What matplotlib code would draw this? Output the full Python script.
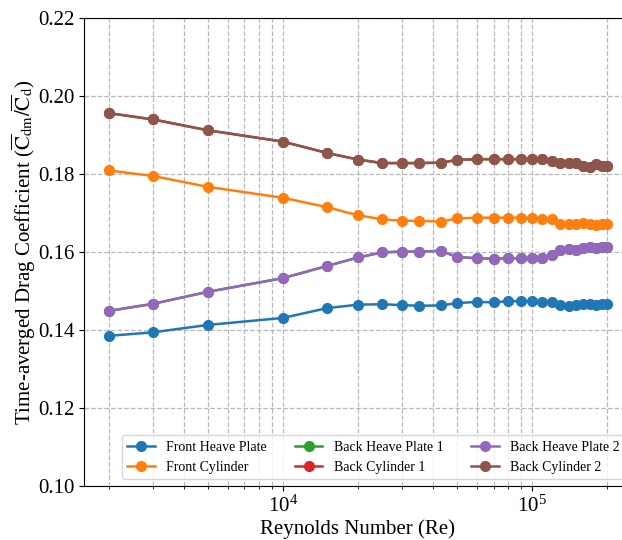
import numpy as np
import matplotlib
matplotlib.use('Agg')
import matplotlib.pyplot as plt
from matplotlib.ticker import FormatStrFormatter

plt.rcParams['font.family'] = ['Liberation Serif', 'DejaVu Serif']
plt.rcParams['mathtext.fontset'] = 'stix'

# Reynolds numbers
re = [2000, 3000, 5000, 10000, 15000, 20000, 25000, 30000, 35000, 43000,
      50000, 60000, 70000, 80000, 90000, 100000, 110000, 120000, 130000,
      140000, 150000, 160000, 170000, 180000, 190000, 200000]

# time-averaged drag coefficient ratio per body
front_heave = [0.1385, 0.1394, 0.1413, 0.1431, 0.1456, 0.1465, 0.1466, 0.1464, 0.1462, 0.1463,
               0.1469, 0.1472, 0.1471, 0.1474, 0.1474, 0.1474, 0.1473, 0.1472, 0.1463,
               0.1462, 0.1463, 0.1467, 0.1467, 0.1463, 0.1466, 0.1466]
front_cyl = [0.1809, 0.1795, 0.1767, 0.1739, 0.1715, 0.1694, 0.1684, 0.1680, 0.1680, 0.1678,
             0.1686, 0.1688, 0.1688, 0.1688, 0.1688, 0.1687, 0.1685, 0.1684, 0.1673,
             0.1671, 0.1672, 0.1674, 0.1673, 0.1669, 0.1673, 0.1672]
back_heave = [0.1449, 0.1467, 0.1498, 0.1533, 0.1564, 0.1586, 0.1599, 0.1601, 0.1601, 0.1603,
              0.1587, 0.1584, 0.1583, 0.1584, 0.1584, 0.1584, 0.1584, 0.1592, 0.1606,
              0.1607, 0.1606, 0.1609, 0.1612, 0.1611, 0.1614, 0.1614]
back_cyl = [0.1956, 0.1940, 0.1912, 0.1883, 0.1854, 0.1837, 0.1828, 0.1828, 0.1828, 0.1829,
            0.1836, 0.1838, 0.1838, 0.1838, 0.1838, 0.1838, 0.1838, 0.1833, 0.1827,
            0.1827, 0.1827, 0.1821, 0.1819, 0.1826, 0.1821, 0.1821]

series = [("Front Heave Plate", front_heave),
          ("Front Cylinder", front_cyl),
          ("Back Heave Plate 1", back_heave),
          ("Back Cylinder 1", back_cyl),
          ("Back Heave Plate 2", back_heave),
          ("Back Cylinder 2", back_cyl)]

fig = plt.figure(figsize=(6.22, 5.4), dpi=100)
ax = fig.add_axes([84 / 622, 54 / 540, 548 / 622, 468 / 540])

for name, vals in series:
    ax.plot(re, vals, marker='o', markersize=7, linewidth=1.8, label=name)

ax.set_xscale('log')
ax.set_ylim(0.10, 0.22)
ax.set_yticks(np.arange(0.10, 0.221, 0.02))
ax.yaxis.set_major_formatter(FormatStrFormatter('%.2f'))
ax.grid(True, which='major', linestyle='--', color='#b8b8b8', linewidth=0.9)
ax.grid(True, which='minor', axis='x', linestyle='--', color='#b8b8b8', linewidth=0.9)
ax.tick_params(labelsize=15)

ax.set_xlabel('Reynolds Number (Re)', fontsize=15, labelpad=2)
ax.set_ylabel(r'Time-averged Drag Coefficient ($\overline{\mathrm{C}}_{\mathrm{dm}}/\overline{\mathrm{C}}_{\mathrm{d}}$)',
              fontsize=15, labelpad=0)
ax.legend(loc='lower right', ncol=3, fontsize=10)

fig.savefig('out.png', dpi=100)
